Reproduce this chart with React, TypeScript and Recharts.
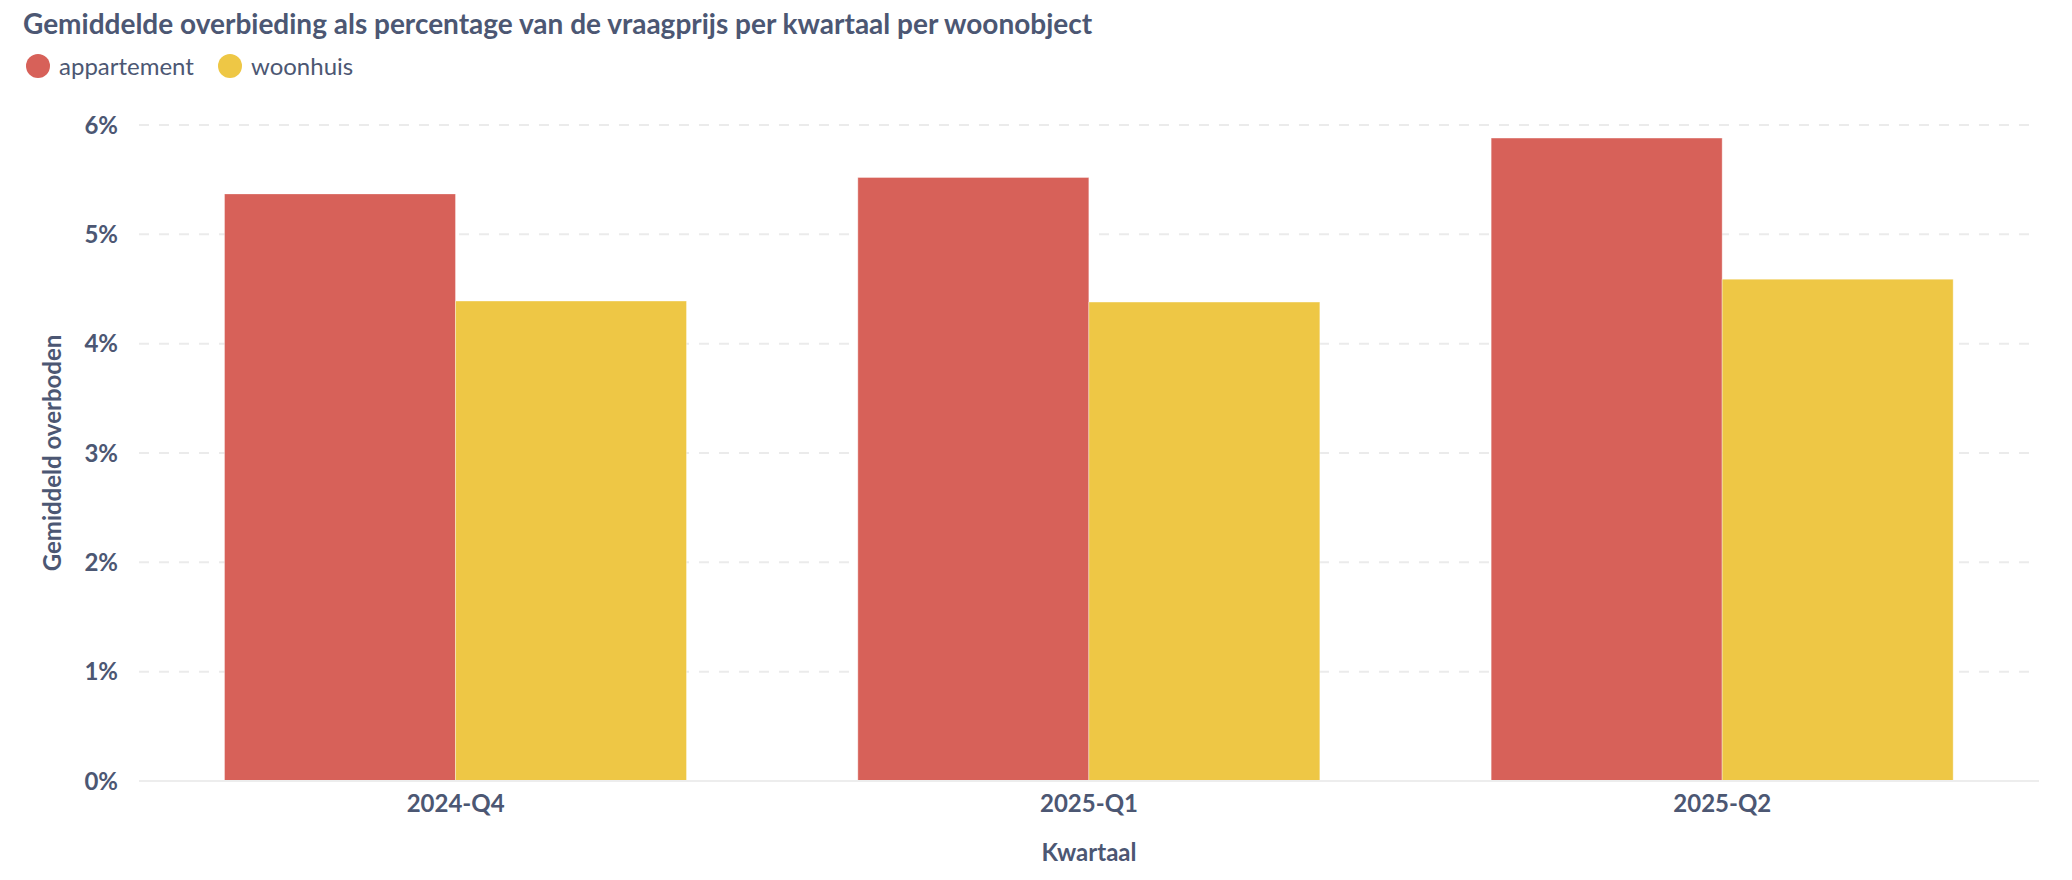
import React from "react";
import { BarChart, Bar, XAxis, YAxis, CartesianGrid } from "recharts";

const categories = ["2024-Q4", "2025-Q1", "2025-Q2"];
const appartement = [5.37, 5.52, 5.88];
const woonhuis = [4.39, 4.38, 4.59];
const yTicks = [0, 1, 2, 3, 4, 5, 6];

const seriesNames = ["appartement", "woonhuis"];
const seriesColors = ["#d76159", "#eec745"];

const data = categories.map((c, i) => ({
  kwartaal: c,
  appartement: appartement[i],
  woonhuis: woonhuis[i],
}));

const TEXT = "#4c5773";
const FONT = "Lato, 'Noto Sans', sans-serif";

export default function App() {
  return (
    <div style={{ position: "relative", width: 2056, height: 864, fontFamily: FONT, color: TEXT }}>
      <div
        style={{
          position: "absolute",
          left: 15,
          top: 0,
          fontSize: 28,
          fontWeight: 700,
          lineHeight: "30px",
          whiteSpace: "nowrap",
        }}
      >
        Gemiddelde overbieding als percentage van de vraagprijs per kwartaal per woonobject
      </div>
      <div
        style={{
          position: "absolute",
          left: 18,
          top: 46,
          height: 24,
          display: "flex",
          alignItems: "center",
        }}
      >
        {seriesNames.map((n, i) => (
          <div key={n} style={{ display: "flex", alignItems: "center", marginRight: 24 }}>
            <div
              style={{
                width: 24,
                height: 24,
                borderRadius: 12,
                background: seriesColors[i],
                marginRight: 9,
              }}
            />
            <span style={{ fontSize: 24, lineHeight: "24px" }}>{n}</span>
          </div>
        ))}
      </div>
      <div style={{ position: "absolute", left: 0, top: 0 }}>
        <BarChart
          width={2056}
          height={864}
          data={data}
          margin={{ top: 117, right: 25, bottom: 6, left: 0 }}
          barCategoryGap="13.5%"
          barGap={0}
        >
          <CartesianGrid vertical={false} stroke="#ebebeb" strokeWidth={2} strokeDasharray="10 10" />
          <XAxis
            dataKey="kwartaal"
            height={85}
            tickLine={false}
            axisLine={{ stroke: "#ededed", strokeWidth: 2 }}
            tickSize={0}
            tickMargin={14}
            tick={{ fill: TEXT, fontSize: 24, fontWeight: 700, fontFamily: FONT }}
            label={{
              value: "Kwartaal",
              position: "insideBottom",
              offset: 5,
              fill: TEXT,
              fontSize: 24,
              fontWeight: 700,
              fontFamily: FONT,
            }}
          />
          <YAxis
            width={131}
            domain={[0, 6]}
            ticks={yTicks}
            tickFormatter={(v) => `${v}%`}
            tickLine={false}
            axisLine={false}
            tickSize={0}
            tickMargin={21}
            tick={{ fill: TEXT, fontSize: 24, fontWeight: 700, fontFamily: FONT }}
            label={{
              value: "Gemiddeld overboden",
              angle: -90,
              position: "insideLeft",
              offset: 44,
              style: { textAnchor: "middle" },
              fill: TEXT,
              fontSize: 24,
              fontWeight: 700,
              fontFamily: FONT,
            }}
          />
          {seriesNames.map((n, i) => (
            <Bar
              key={n}
              dataKey={n}
              fill={seriesColors[i]}
              stroke="#ffffff"
              strokeOpacity={0.35}
              strokeWidth={1}
              isAnimationActive={false}
            />
          ))}
        </BarChart>
      </div>
    </div>
  );
}
